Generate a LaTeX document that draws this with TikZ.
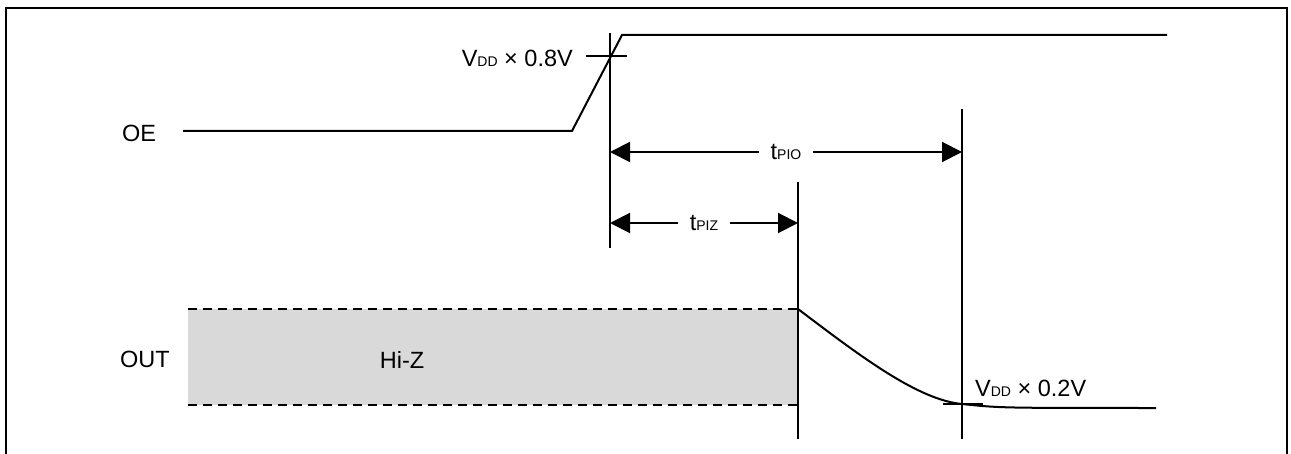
\documentclass[tikz,border=0pt]{standalone}
\usepackage{fontspec}
\setmainfont{Liberation Sans}
\usetikzlibrary{arrows.meta}
\newcommand{\sub}[1]{{\fontsize{14}{14}\selectfont #1}}
\tikzset{
  sig/.style={line width=2pt, black},
  lbl/.style={font=\fontsize{23.5}{26}\selectfont, text=black, inner sep=0pt},
  dim/.style={line width=2pt, {Triangle[length=20pt,width=20pt]}-{Triangle[length=20pt,width=20pt]}},
  gapnode/.style={lbl, fill=white, inner xsep=12pt, inner ysep=2pt},
  hiz/.style={dash pattern=on 9pt off 6pt, line width=2pt},
}
\begin{document}
\begin{tikzpicture}[x=1pt,y=-1pt]
\useasboundingbox (0,0) rectangle (1291,454);
% frame
\draw[line width=2.5pt] (6,470) -- (6,8) -- (1287,8) -- (1287,470);
% coordinates
\coordinate (oeA) at (183,131);
\coordinate (oeB) at (572,131);
\coordinate (oeC) at (622,35);
\coordinate (oeD) at (1167,35);
\coordinate (v1t) at (610,33);
\coordinate (v1b) at (610,248);
\coordinate (v2t) at (798,182);
\coordinate (v2b) at (798,439);
\coordinate (v3t) at (962,109);
\coordinate (v3b) at (962,439);
\coordinate (tkL) at (586,56);
\coordinate (tkR) at (627,56);
\coordinate (pioL) at (610,152);
\coordinate (pioR) at (962,152);
\coordinate (pizL) at (610,223);
\coordinate (pizR) at (798,223);
\coordinate (bxTL) at (188,309);
\coordinate (bxTR) at (798,309);
\coordinate (bxBL) at (188,405);
\coordinate (bxBR) at (798,405);
\coordinate (crv) at (962,404);
\coordinate (outE) at (1156,408);
\coordinate (tk2L) at (943,404);
\coordinate (tk2R) at (983,404);
% Hi-Z box
\fill[gray!30] (bxTL) rectangle (bxBR);
\draw[hiz] (bxTL) -- (bxTR);
\draw[hiz] (bxBL) -- (bxBR);
% OE signal
\draw[sig] (oeA) -- (oeB) -- (oeC) -- (oeD);
% verticals
\draw[sig] (v1t) -- (v1b);
\draw[sig] (v2t) -- (v2b);
\draw[sig] (v3t) -- (v3b);
% ticks
\draw[sig] (tkL) -- (tkR);
\draw[sig] (tk2L) -- (tk2R);
% OUT curve
\draw[sig] (bxTR) .. controls (860,356) and (918,400) .. (crv) .. controls (1000,408) .. (outE);
% dimension arrows
\draw[dim] (pioL) -- node[gapnode] (tpio) {t\sub{PIO}} (pioR);
\draw[dim] (pizL) -- node[gapnode] (tpiz) {t\sub{PIZ}} (pizR);
% labels
\node[lbl, anchor=base west] (oe) at (122,142) {OE};
\node[lbl, anchor=base west] (out) at (120,368) {OUT};
\node[lbl] (hz) at (402,360) {Hi-Z};
\node[lbl, anchor=base east] (v08) at (573,67) {V\sub{DD} × 0.8V};
\node[lbl, anchor=base west] (v02) at (975,396) {V\sub{DD} × 0.2V};
\end{tikzpicture}
\end{document}
